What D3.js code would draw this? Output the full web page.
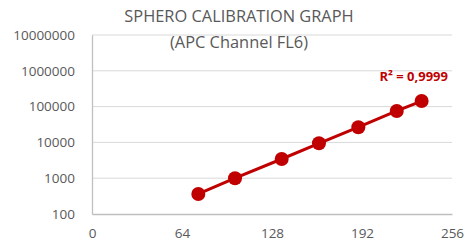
<!DOCTYPE html>
<html>
<head>
<meta charset="utf-8">
<script src="https://cdn.jsdelivr.net/npm/d3@7"></script>
<style>
  body { margin: 0; background: #fff; }
  text { font-family: "Open Sans", sans-serif; }
</style>
</head>
<body>
<div id="chart"></div>
<script>
// channel values and bead intensity
var channels = [75.6, 101.7, 134.9, 161.4, 189.4, 216.7, 234.4];
var intensity = [363, 1000, 3440, 9440, 26600, 75400, 143000];
var xTicks = [0, 64, 128, 192, 256];
var yTicks = [100, 1000, 10000, 100000, 1000000, 10000000];
var titleLines = ["SPHERO CALIBRATION GRAPH", "(APC Channel FL6)"];
var r2Label = "R² = 0,9999";

var width = 465, height = 247;
var margin = {top: 35, right: 13, bottom: 33, left: 92};
var red = "#C00000";

var svg = d3.select("#chart").append("svg")
    .attr("width", width)
    .attr("height", height);

var x = d3.scaleLinear().domain([0, 256]).range([margin.left, width - margin.right]);
var y = d3.scaleLog().domain([100, 10000000]).range([height - margin.bottom, margin.top]);

// gridlines
svg.append("g")
  .selectAll("line")
  .data(yTicks.slice(1))
  .join("line")
    .attr("x1", x(0)).attr("x2", x(256))
    .attr("y1", d => y(d)).attr("y2", d => y(d))
    .attr("stroke", "#d9d9d9")
    .attr("stroke-width", 1);

// axes
var yAxis = svg.append("g")
    .attr("transform", "translate(" + x(0) + ",0)")
    .call(d3.axisLeft(y).tickValues(yTicks).tickFormat(d3.format("d")).tickSize(0).tickPadding(17));
var xAxis = svg.append("g")
    .attr("transform", "translate(0," + y(100) + ")")
    .call(d3.axisBottom(x).tickValues(xTicks).tickSize(0).tickPadding(14));

[xAxis, yAxis].forEach(function(g) {
  g.select(".domain").attr("stroke", "#bfbfbf").attr("stroke-width", 1.3);
  g.selectAll("text")
    .attr("fill", "#595959")
    .style("font-family", "'Open Sans', sans-serif")
    .style("font-size", "13.5px");
});

// line + points
var pts = channels.map((c, i) => ({c: c, v: intensity[i]}));
svg.append("path")
  .datum(pts)
  .attr("fill", "none")
  .attr("stroke", red)
  .attr("stroke-width", 3)
  .attr("d", d3.line().x(d => x(d.c)).y(d => y(d.v)));

svg.append("g")
  .selectAll("circle")
  .data(pts)
  .join("circle")
    .attr("cx", d => x(d.c))
    .attr("cy", d => y(d.v))
    .attr("r", 7)
    .attr("fill", red);

// title
svg.append("g")
  .selectAll("text")
  .data(titleLines)
  .join("text")
    .attr("x", 239)
    .attr("y", (d, i) => 22 + i * 26)
    .attr("text-anchor", "middle")
    .attr("fill", "#595959")
    .style("font-size", "16.4px")
    .text(d => d);

svg.append("text")
  .attr("x", 448)
  .attr("y", 81)
  .attr("text-anchor", "end")
  .attr("fill", red)
  .style("font-size", "13px")
  .style("font-weight", "bold")
  .text(r2Label);
</script>
</body>
</html>
